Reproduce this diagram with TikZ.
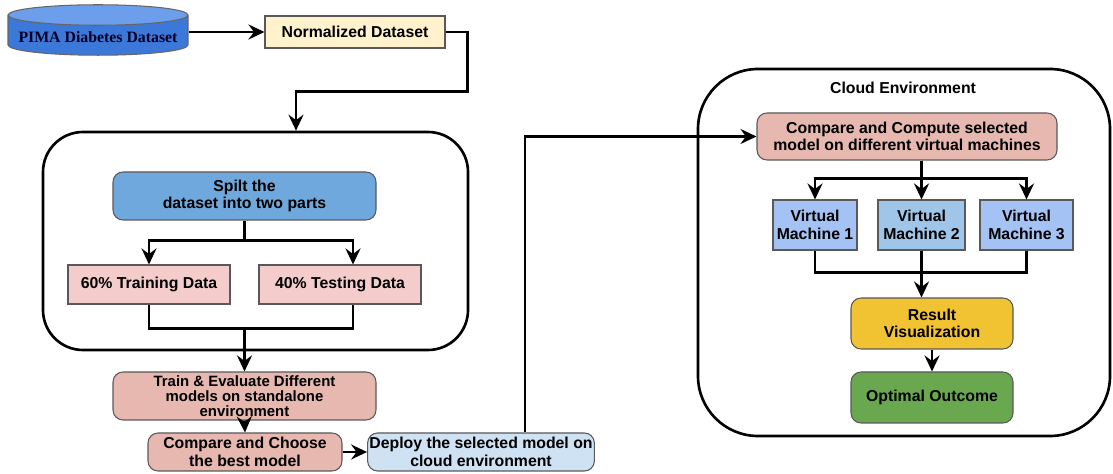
\documentclass[tikz,border=0pt]{standalone}
\usepackage{fontspec}
\setmainfont{Liberation Sans}
\newfontfamily\timesfont{Liberation Serif}
\usepackage{tikz}
\usetikzlibrary{positioning,arrows.meta,shapes.geometric,calc}
\definecolor{dbblue}{RGB}{60,120,216}
\definecolor{dbtop}{RGB}{109,158,235}
\definecolor{normfill}{RGB}{255,242,204}
\definecolor{splitfill}{RGB}{111,168,220}
\definecolor{pinkfill}{RGB}{244,204,204}
\definecolor{salmon}{RGB}{230,184,175}
\definecolor{deployfill}{RGB}{207,226,243}
\definecolor{vmfill}{RGB}{164,194,244}
\definecolor{vmfilltwo}{RGB}{159,197,232}
\definecolor{resfill}{RGB}{241,194,50}
\definecolor{optfill}{RGB}{106,168,79}
\tikzset{
>={Stealth[width=3mm,length=3.2mm,inset=1.1mm]},
base/.style = {rectangle, draw=black!65, line width=0.6pt, align=center,
                         inner sep=1pt, font=\bfseries\fontsize{9}{10}\selectfont},
flat/.style = {base},
round/.style = {base, rounded corners=2mm},
frame/.style = {rectangle, draw=black, line width=1.5pt},
}

\begin{document}
\begin{tikzpicture}[line width=1.5pt, align=center]

    \useasboundingbox (0,0) rectangle (22.26,-9.48);

    \node[cylinder, shape border rotate=90, aspect=0.12, draw=black!60, line width=0.6pt,
          cylinder uses custom fill, cylinder body fill=dbblue, cylinder end fill=dbtop,
          minimum width=3.6cm, minimum height=0.88cm, anchor=shape center,
          font=\timesfont\bfseries\fontsize{9}{10}\selectfont, text=black!85!blue] (data) at(1.96, -0.6)  {PIMA Diabetes Dataset};
    \node[flat, fill=normfill, minimum width=3.6cm, minimum height=0.64cm] (norm) at(7.1, -0.64)  {Normalized Dataset};

    % standalone part
    \node[frame, rounded corners=0.8cm, minimum width=8.5cm, minimum height=4.36cm] (local) at(5.11, -4.82)  {};
    \node[round, fill=splitfill, minimum width=5.26cm, minimum height=0.96cm] (split) at(4.89, -3.92)  {Spilt the\\dataset into two parts};
    \node[flat, fill=pinkfill, minimum width=3.24cm, minimum height=0.78cm] (train) at(2.98, -5.69)  {60\% Training Data};
    \node[flat, fill=pinkfill, minimum width=3.24cm, minimum height=0.78cm] (test) at(6.8, -5.69)  {40\% Testing Data};

    \node[round, fill=salmon, minimum width=5.26cm, minimum height=0.96cm,
          font=\bfseries\fontsize{8.5}{8.6}\selectfont] (evalm) at(4.89, -7.92)  {Train \& Evaluate Different\\models on standalone\\environment};
    \node[round, fill=salmon, minimum width=3.88cm, minimum height=0.76cm] (choose) at(4.9, -9.04)  {Compare and Choose\\the best model};
    \node[round, fill=deployfill, minimum width=4.52cm, minimum height=0.76cm] (deploy) at(9.62, -9.04)  {Deploy the selected model on\\cloud environment};

    % cloud part
    \node[frame, rounded corners=1.2cm, minimum width=8.24cm, minimum height=7.34cm] (cloud) at(18.08, -5.05)  {};
    \node[font=\bfseries\fontsize{9}{10}\selectfont] (cloudlbl) at(18.06, -1.76)  {Cloud Environment};
    \node[round, fill=salmon, minimum width=6cm, minimum height=0.94cm] (compute) at(18.14, -2.73)  {Compare and Compute selected\\model on different virtual machines};

    \node[flat, fill=vmfill, minimum width=1.68cm, minimum height=1cm] (vm1) at(16.3, -4.5)  {Virtual\\Machine 1};
    \node[flat, fill=vmfilltwo, minimum width=1.74cm, minimum height=1cm] (vm2) at(18.43, -4.5)  {Virtual\\Machine 2};
    \node[flat, fill=vmfill, minimum width=1.86cm, minimum height=1cm] (vm3) at(20.53, -4.5)  {Virtual\\Machine 3};

    \node[round, fill=resfill, minimum width=3.24cm, minimum height=1.02cm] (result) at(18.64, -6.47)  {Result\\Visualization};
    \node[round, fill=optfill, minimum width=3.24cm, minimum height=1.02cm] (optimal) at(18.64, -7.95)  {Optimal Outcome};

    \draw[->] (data.east |- norm.west)  to (norm.west) ;
    \draw[->] (norm.east) -- ++(0.44,0) |- ($(local.north)+(0.81,0.78)$) -- ($(local.north)+(0.81,0)$) ;

    \draw[->] (split.south) -- ++(0,-0.4) -| (train.north) ;
    \draw[->] (split.south) -- ++(0,-0.4) -| ($(test.north)+(0.26,0)$) ;
    \draw (train.south) -- ++(0,-0.48) -| ($(test.south)+(0.26,0)$) ;
    \draw[->] ($(evalm.north)+(0,0.88)$) -- (evalm.north) ;

    \draw[->] (evalm.south)  to (choose.north) ;
    \draw[->] (choose)  to (deploy) ;
    \draw[->] ($(deploy.north)+(0.88,0)$) |- (compute.west) ;

    \draw[->] (compute.south -| vm2.north) -- ++(0,-0.36) -| (vm1.north) ;
    \draw[->] (compute.south -| vm2.north) -- (vm2.north) ;
    \draw[->] (compute.south -| vm2.north) -- ++(0,-0.36) -| (vm3.north) ;

    \draw (vm1.south) -- ++(0,-0.44) -| (vm3.south) ;
    \draw (vm2.south) -- ++(0,-0.44) ;
    \draw[->] (vm2.south) -- (vm2.south |- result.north) ;
    \draw[->] (result)  to (optimal) ;

\end{tikzpicture}
\end{document}
